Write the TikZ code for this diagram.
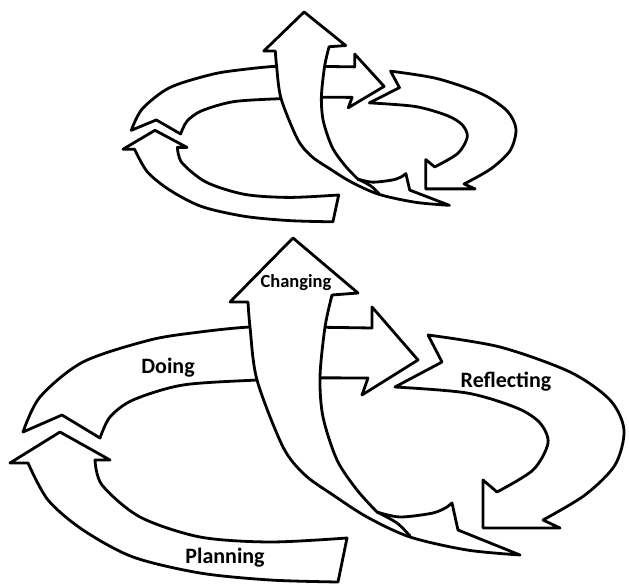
\documentclass[tikz,border=0pt]{standalone}
\usepackage{fontspec}
\setmainfont{Carlito}
\usetikzlibrary{arrows.meta}
\tikzset{
  arrowbody/.style={draw=black, fill=white, line width=2.8pt, line join=round},
  seam/.style={draw=black, line width=2.8pt, line cap=round},
  lbl/.style={font=\fontsize{22}{24}\selectfont\bfseries, text=black},
}
\newcommand{\cyclearrows}{%
  \draw[arrowbody] (347,538) -- (338,582)
    -- plot[smooth] coordinates {(338,582) (270,580) (200,573) (133,557) (83,530) (48,500) (28,463)}
    -- (10,463) -- (60,432) -- (110,460) -- (95,460)
    -- plot[smooth] coordinates {(95,460) (102,485) (140,517) (200,537) (270,542) (347,538)} -- cycle;
  \draw[arrowbody] (428,335)
    -- plot[smooth] coordinates {(428,335) (500,347) (570,372) (610,400) (624,430) (615,465) (585,495) (543,520)}
    -- (560,528) -- (483,528) -- (483,480) -- (497,492)
    -- plot[smooth] coordinates {(497,492) (533,470) (548,443) (540,423) (517,408) (467,393) (395,387)}
    -- (442,362) -- cycle;
  \draw[arrowbody] (23,432)
    -- plot[smooth] coordinates {(23,432) (40,397) (83,362) (150,340) (200,332) (250,327) (300,327) (372,328)}
    -- (372,307) -- (418,360) -- (362,395) -- (368,378)
    -- plot[smooth] coordinates {(368,378) (300,378) (257,380) (183,385) (133,400) (110,417) (100,438)}
    -- (62,415) -- cycle;
  \draw[arrowbody] (293,238) -- (358,293) -- (332,295)
    -- plot[smooth] coordinates {(332,295) (325,327) (320,377) (323,417) (337,460) (357,490) (377,512)}
    -- plot[smooth] coordinates {(377,512) (400,517) (433,513) (447,507)}
    -- (452,503) -- (458,530) -- (520,555)
    -- plot[smooth] coordinates {(520,555) (467,550) (410,537) (367,517) (333,495) (305,475) (283,447) (257,380) (250,327) (248,302)}
    -- (230,302) -- cycle;
  \draw[seam] plot[smooth] coordinates {(377,512) (397,523) (410,536)};
}

\begin{document}
\begin{tikzpicture}[x=1pt, y=-1pt,
  topcycle/.style={shift={(116.6,-133.2)}, xscale=0.64, yscale=0.61}
]
\useasboundingbox (0,0) rectangle (629,585);

\begin{scope}[topcycle]
  \cyclearrows
\end{scope}

\cyclearrows

\node[lbl] (doing) at (168,368) {Doing};
\node[lbl] (reflecting) at (506,382) {Reflecting};
\node[lbl] (planning) at (225,558) {Planning};
\node[lbl, font=\fontsize{18.5}{20}\selectfont\bfseries] (changing) at (296,283) {Changing};

\end{tikzpicture}
\end{document}
